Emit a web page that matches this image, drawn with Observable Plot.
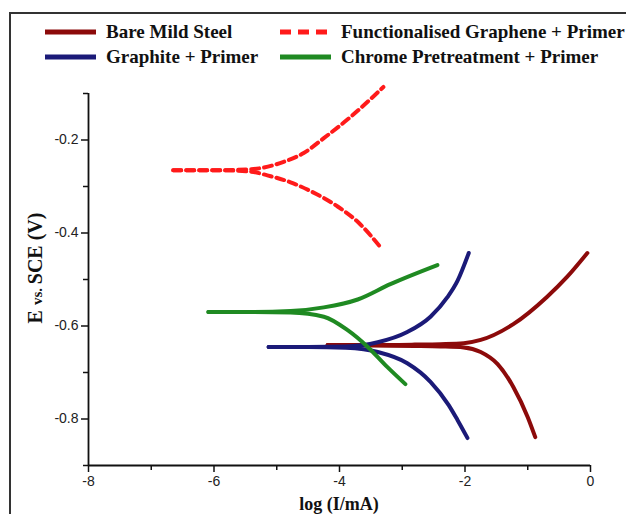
<!DOCTYPE html>
<html>
<head>
<meta charset="utf-8">
<script src="https://cdn.jsdelivr.net/npm/d3@7"></script>
<script src="https://cdn.jsdelivr.net/npm/@observablehq/plot@0.6"></script>
<style>
  html, body { margin: 0; padding: 0; background: #fff; }
  #wrap { position: relative; width: 626px; height: 514px; overflow: hidden; background: #fff; }
  #wrap svg.plot { position: absolute; left: 0; top: 0; }
  #frame { position: absolute; left: 9px; top: 12px; right: -4px; bottom: -4px;
           border-left: 2px solid #333; border-top: 2px solid #333; pointer-events: none; }
  .leg { position: absolute; display: flex; align-items: center;
         font-family: "Liberation Serif", "Times New Roman", serif; font-weight: bold;
         font-size: 19px; color: #111; white-space: nowrap; }
  .leg svg { margin-right: 10px; }
</style>
</head>
<body>
<div id="wrap"><div id="frame"></div></div>
<script>
// ---- Data ----
const seriesNames = ["Bare Mild Steel", "Graphite + Primer", "Chrome Pretreatment + Primer", "Functionalised Graphene + Primer"];
const seriesColors = ["#8c0a0a", "#1b1a78", "#1f8a22", "#ff1a1a"];

// Bare Mild Steel
const bareAnodicX = [-4.19, -3.5, -2.8, -2.39, -2.02, -1.75, -1.23, -0.69, -0.37, -0.05];
const bareAnodicE = [-0.641, -0.641, -0.640, -0.639, -0.637, -0.630, -0.596, -0.537, -0.494, -0.443];
const bareCathodicX = [-4.19, -3.5, -2.8, -2.39, -2.02, -1.75, -1.48, -1.23, -1.00, -0.88];
const bareCathodicE = [-0.641, -0.642, -0.643, -0.644, -0.646, -0.656, -0.682, -0.731, -0.796, -0.839];

// Graphite + Primer
const graphAnodicX = [-5.13, -4.5, -3.9, -3.39, -2.92, -2.55, -2.28, -2.12, -1.94];
const graphAnodicE = [-0.645, -0.645, -0.644, -0.635, -0.613, -0.580, -0.538, -0.503, -0.443];
const graphCathodicX = [-5.13, -4.5, -3.9, -3.39, -2.92, -2.55, -2.26, -2.12, -1.96];
const graphCathodicE = [-0.645, -0.645, -0.647, -0.656, -0.680, -0.720, -0.770, -0.802, -0.841];

// Chrome Pretreatment + Primer
const chromeAnodicX = [-6.09, -5.4, -4.78, -4.25, -3.71, -3.19, -2.44];
const chromeAnodicE = [-0.570, -0.570, -0.568, -0.560, -0.543, -0.510, -0.469];
const chromeCathodicX = [-6.09, -5.4, -4.78, -4.25, -3.87, -3.55, -3.24, -2.95];
const chromeCathodicE = [-0.570, -0.570, -0.571, -0.580, -0.609, -0.645, -0.688, -0.725];

// Functionalised Graphene + Primer
const fgAnodicX = [-6.65, -6.0, -5.42, -4.89, -4.57, -4.25, -3.82, -3.30];
const fgAnodicE = [-0.265, -0.265, -0.263, -0.247, -0.228, -0.196, -0.150, -0.086];
const fgCathodicX = [-6.65, -6.0, -5.42, -5.15, -4.78, -4.46, -4.03, -3.71, -3.35];
const fgCathodicE = [-0.265, -0.265, -0.268, -0.276, -0.291, -0.310, -0.343, -0.376, -0.430];

// Axis ticks
const xMajorTicks = [-8, -6, -4, -2, 0];
const xMinorTicks = [-7, -5, -3, -1];
const yMajorTicks = [-0.2, -0.4, -0.6, -0.8];
const yMinorTicks = [-0.1, -0.3, -0.5, -0.7, -0.9];
const xDomain = [-8, 0];
const yDomain = [-0.9, -0.1];

// ---- Build table ----
const branches = [
  [0, "anodic", bareAnodicX, bareAnodicE],
  [0, "cathodic", bareCathodicX, bareCathodicE],
  [1, "anodic", graphAnodicX, graphAnodicE],
  [1, "cathodic", graphCathodicX, graphCathodicE],
  [2, "anodic", chromeAnodicX, chromeAnodicE],
  [2, "cathodic", chromeCathodicX, chromeCathodicE],
  [3, "anodic", fgAnodicX, fgAnodicE],
  [3, "cathodic", fgCathodicX, fgCathodicE]
];
const rows = [];
for (const [si, br, xs, es] of branches) {
  xs.forEach((x, i) => rows.push({series: seriesNames[si], key: seriesNames[si] + "|" + br, x, E: es[i]}));
}
const solidRows = rows.filter(d => d.series !== seriesNames[3]);
const dashRows = rows.filter(d => d.series === seriesNames[3]);

const colorScale = {domain: seriesNames, range: seriesColors};

const chart = Plot.plot({
  width: 626,
  height: 514,
  marginLeft: 88,
  marginRight: 36,
  marginTop: 93,
  marginBottom: 49,
  x: {domain: xDomain},
  y: {domain: yDomain},
  color: colorScale,
  style: {fontFamily: "'Liberation Sans', Arial, sans-serif", fontSize: "14px", color: "#222", background: "transparent"},
  marks: [
    Plot.ruleX([xDomain[0]], {y1: yDomain[0], y2: yDomain[1], stroke: "#111", strokeWidth: 1.8}),
    Plot.ruleY([yDomain[0]], {x1: xDomain[0], x2: xDomain[1], stroke: "#111", strokeWidth: 1.8}),
    Plot.axisX({ticks: xMajorTicks, tickSize: 7, tickPadding: 4, tickFormat: d => String(d), label: null, stroke: "#111", strokeWidth: 1.5, fontSize: 14}),
    Plot.axisX({ticks: xMinorTicks, tickSize: 5, tickFormat: () => "", label: null, stroke: "#111", strokeWidth: 1.5}),
    Plot.axisY({ticks: yMajorTicks, tickSize: 7, tickPadding: 3, tickFormat: d => String(d), label: null, stroke: "#111", strokeWidth: 1.5, fontSize: 14}),
    Plot.axisY({ticks: yMinorTicks, tickSize: 5, tickFormat: () => "", label: null, stroke: "#111", strokeWidth: 1.5}),
    Plot.line(solidRows, {x: "x", y: "E", z: "key", stroke: "series", strokeWidth: 4, curve: "monotone-x", strokeLinecap: "round", clip: false}),
    Plot.line(dashRows, {x: "x", y: "E", z: "key", stroke: "series", strokeWidth: 4, curve: "monotone-x", strokeDasharray: "8,5", clip: false})
  ]
});
chart.classList.add("plot");
document.getElementById("wrap").appendChild(chart);

// Axis titles (mixed-size y title added with d3)
const svg = d3.select(chart);
svg.append("text")
  .attr("transform", "translate(42,268) rotate(-90)")
  .attr("text-anchor", "middle")
  .attr("font-family", "'Liberation Serif', 'Times New Roman', serif")
  .attr("font-weight", "bold")
  .attr("fill", "#111")
  .call(t => {
    t.append("tspan").attr("font-size", 20).text("E ");
    t.append("tspan").attr("font-size", 15).text("vs. ");
    t.append("tspan").attr("font-size", 20).text("SCE (V)");
  });
svg.append("text")
  .attr("x", 339).attr("y", 510)
  .attr("text-anchor", "middle")
  .attr("font-family", "'Liberation Serif', 'Times New Roman', serif")
  .attr("font-weight", "bold")
  .attr("font-size", 18)
  .attr("fill", "#111")
  .text("log (I/mA)");

// Legend (HTML, above the plot area)
const legendPos = [[45, 32], [45, 57], [280, 57], [280, 32]];
seriesNames.forEach((name, i) => {
  const div = document.createElement("div");
  div.className = "leg";
  div.style.left = legendPos[i][0] + "px";
  div.style.top = (legendPos[i][1] - 12) + "px";
  div.style.height = "24px";
  const dash = i === 3 ? 'stroke-dasharray="11,7"' : '';
  div.innerHTML = `<svg width="51" height="10"><line x1="0" y1="5" x2="51" y2="5" stroke="${seriesColors[i]}" stroke-width="5" ${dash}/></svg><span>${name}</span>`;
  document.getElementById("wrap").appendChild(div);
});
</script>
</body>
</html>
